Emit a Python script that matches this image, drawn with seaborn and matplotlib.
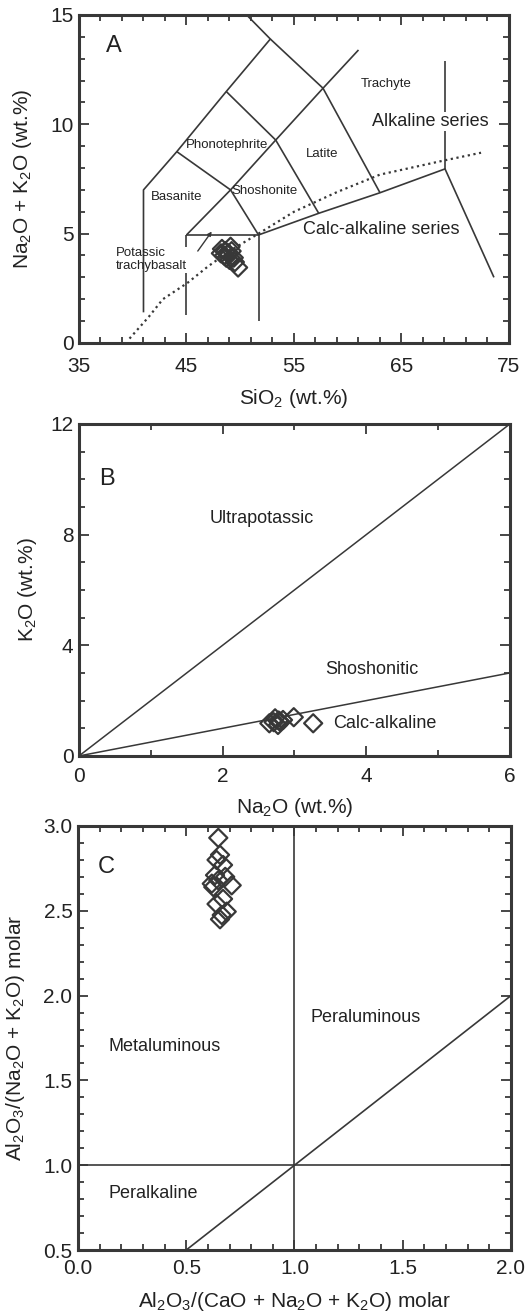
import numpy as np
import pandas as pd
import matplotlib
matplotlib.use("Agg")
import matplotlib.pyplot as plt
from matplotlib.ticker import MultipleLocator, FormatStrFormatter
import seaborn as sns

# -----------------------------------------------------------------------------
# Data
# -----------------------------------------------------------------------------

# Panel A: TAS diagram samples (SiO2 vs Na2O+K2O)
tas_sio2 = [48.2, 48.3, 48.5, 48.6, 48.7, 48.9, 49.0, 49.1, 49.2, 49.4, 49.5, 49.8]
tas_alk = [4.1, 4.3, 4.0, 4.2, 3.9, 4.1, 3.8, 4.4, 4.2, 3.9, 3.7, 3.45]

# TAS field boundaries, each a polyline of (SiO2, alkalis)
tas_bounds = {
    "left": ([41.0, 41.0, 44.1, 48.7, 52.8, 50.6], [1.4, 7.0, 8.75, 11.5, 13.9, 15.0]),
    "top": ([52.8, 57.7, 63.0], [13.9, 11.65, 6.87]),
    "trachyte": ([57.7, 61.0], [11.65, 13.4]),
    "mid1": ([45.0, 49.1, 53.3, 57.7], [4.94, 7.0, 9.28, 11.65]),
    "mid2": ([44.1, 49.1, 51.7], [8.75, 7.0, 4.94]),
    "mid3": ([48.7, 53.3, 57.3], [11.5, 9.28, 5.93]),
    "base": ([51.7, 57.3, 63.0, 69.05, 73.6], [4.94, 5.93, 6.87, 7.96, 3.0]),
    "rhyolite": ([69.05, 69.05], [7.96, 12.9]),
    "box_top": ([45.0, 51.7], [4.94, 4.94]),
    "box_l1": ([45.0, 45.0], [4.94, 4.4]),
    "box_l2": ([45.0, 45.0], [3.2, 1.3]),
    "box_r": ([51.7, 51.7], [4.94, 1.0]),
}

# Alkaline / subalkaline divide (dotted)
divide_sio2 = [39.7, 41.5, 42.8, 45.1, 47.0, 49.0, 51.7, 55.0, 59.0, 63.0, 69.0, 72.4]
divide_alk = [0.2, 1.2, 2.0, 2.75, 3.5, 4.2, 5.0, 6.0, 6.9, 7.7, 8.35, 8.7]

# small arrow inside potassic trachybasalt field
arrow_start = (45.9, 4.1)
arrow_end = (47.5, 5.2)

tas_labels = [
    ("Trachyte", 63.6, 11.83, 9.5),
    ("Alkaline series", 67.65, 10.12, 13),
    ("Phonotephrite", 48.74, 9.05, 9.5),
    ("Latite", 57.6, 8.63, 9.5),
    ("Basanite", 44.1, 6.69, 9.5),
    ("Shoshonite", 52.3, 6.96, 9.5),
    ("Calc-alkaline series", 63.16, 5.17, 13),
]

# Panel B: K2O vs Na2O
b_na2o = [2.65, 2.71, 2.73, 2.77, 2.80, 2.84, 2.78, 2.99, 3.26]
b_k2o = [1.18, 1.22, 1.36, 1.12, 1.24, 1.30, 1.28, 1.40, 1.18]
b_line_x = [0, 6]
b_ultra_y = [0, 12]
b_shosh_y = [0, 3]

# Panel C: A/NK vs A/CNK
c_acnk = [0.648, 0.656, 0.64, 0.67, 0.633, 0.648, 0.618, 0.625, 0.71, 0.68,
          0.67, 0.64, 0.687, 0.664, 0.656]
c_ank = [2.93, 2.83, 2.80, 2.77, 2.71, 2.68, 2.66, 2.64, 2.65, 2.70,
         2.57, 2.54, 2.495, 2.475, 2.45]

INK = "#383838"
TXT = "#222222"

sns.set_theme(style="white")
plt.rcParams["font.family"] = ["Liberation Sans", "DejaVu Sans"]
plt.rcParams["mathtext.default"] = "regular"

fig = plt.figure(figsize=(5.28, 13.14), dpi=100)
ax_a = fig.add_axes([0.1496, 0.7390, 0.8144, 0.2496])
ax_b = fig.add_axes([0.1496, 0.4247, 0.8163, 0.2527])
ax_c = fig.add_axes([0.1477, 0.0487, 0.8201, 0.3227])


def style_axes(ax, xloc, yloc, xpad, ypad):
    for sp in ax.spines.values():
        sp.set_color(INK)
        sp.set_linewidth(2.2)
    ax.xaxis.set_major_locator(xloc[0])
    ax.xaxis.set_minor_locator(xloc[1])
    ax.yaxis.set_major_locator(yloc[0])
    ax.yaxis.set_minor_locator(yloc[1])
    ax.tick_params(which="both", direction="in", top=True, right=True,
                   bottom=True, left=True, color=INK, width=1.3)
    ax.tick_params(which="major", length=7, labelsize=15, labelcolor=TXT)
    ax.tick_params(which="minor", length=4)
    ax.tick_params(axis="x", which="major", pad=xpad)
    ax.tick_params(axis="y", which="major", pad=ypad)


def diamonds(ax, x, y):
    df = pd.DataFrame({"x": x, "y": y})
    sns.scatterplot(data=df, x="x", y="y", ax=ax, marker="D", s=85,
                    fc="none", ec=INK, linewidth=1.6, zorder=5)
    ax.set_xlabel("")
    ax.set_ylabel("")


# ---------------- Panel A ----------------
for xs, ys in tas_bounds.values():
    ax_a.plot(xs, ys, color=INK, lw=1.2, solid_capstyle="butt")
ax_a.plot(divide_sio2, divide_alk, color=INK, lw=1.6, ls=(0, (1, 1.6)))
ax_a.annotate("", xy=arrow_end, xytext=arrow_start,
              arrowprops=dict(arrowstyle="-|>", color=INK, lw=1.0,
                              mutation_scale=6))
diamonds(ax_a, tas_sio2, tas_alk)
for txt, x, y, fs in tas_labels:
    kw = {}
    if txt == "Alkaline series":
        kw["bbox"] = dict(fc="white", ec="none", pad=0.5)
    ax_a.text(x, y, txt, ha="center", va="center", fontsize=fs, color=TXT, **kw)
ax_a.text(38.4, 3.8, "Potassic\ntrachybasalt", ha="left", va="center",
          fontsize=9.5, color=TXT, linespacing=1.1)
ax_a.text(38.2, 13.6, "A", ha="center", va="center", fontsize=17, color=TXT)
ax_a.set_xlim(35, 75)
ax_a.set_ylim(0, 15)
style_axes(ax_a,
           (MultipleLocator(10, offset=5), MultipleLocator(2, offset=1)),
           (MultipleLocator(5), MultipleLocator(1)),
           xpad=10, ypad=4)
ax_a.set_xlabel("SiO$_2$ (wt.%)", fontsize=15, color=TXT, labelpad=8)
ax_a.set_ylabel("Na$_2$O + K$_2$O (wt.%)", fontsize=15, color=TXT, labelpad=11.5)

# ---------------- Panel B ----------------
ax_b.plot(b_line_x, b_ultra_y, color=INK, lw=1.1)
ax_b.plot(b_line_x, b_shosh_y, color=INK, lw=1.1)
diamonds(ax_b, b_na2o, b_k2o)
ax_b.text(0.385, 10.0, "B", ha="center", va="center", fontsize=17, color=TXT)
ax_b.text(2.54, 8.59, "Ultrapotassic", ha="center", va="center", fontsize=13, color=TXT)
ax_b.text(4.07, 3.11, "Shoshonitic", ha="center", va="center", fontsize=13, color=TXT)
ax_b.text(3.54, 1.18, "Calc-alkaline", ha="left", va="center", fontsize=13, color=TXT)
ax_b.set_xlim(0, 6)
ax_b.set_ylim(0, 12)
style_axes(ax_b,
           (MultipleLocator(2), MultipleLocator(1)),
           (MultipleLocator(4), MultipleLocator(1)),
           xpad=8, ypad=4)
ax_b.set_xlabel("Na$_2$O (wt.%)", fontsize=15, color=TXT, labelpad=7.5)
ax_b.set_ylabel("K$_2$O (wt.%)", fontsize=15, color=TXT, labelpad=8)

# ---------------- Panel C ----------------
ax_c.axvline(1.0, color=INK, lw=1.2)
ax_c.axhline(1.0, color=INK, lw=1.2)
ax_c.plot([0.5, 2.0], [0.5, 2.0], color=INK, lw=1.2)
diamonds(ax_c, c_acnk, c_ank)
ax_c.text(0.13, 2.76, "C", ha="center", va="center", fontsize=17, color=TXT)
ax_c.text(0.40, 1.70, "Metaluminous", ha="center", va="center", fontsize=13, color=TXT)
ax_c.text(1.33, 1.87, "Peraluminous", ha="center", va="center", fontsize=13, color=TXT)
ax_c.text(0.348, 0.835, "Peralkaline", ha="center", va="center", fontsize=13, color=TXT)
ax_c.set_xlim(0, 2.0)
ax_c.set_ylim(0.5, 3.0)
style_axes(ax_c,
           (MultipleLocator(0.5), MultipleLocator(0.1)),
           (MultipleLocator(0.5), MultipleLocator(0.1)),
           xpad=6.5, ypad=4)
ax_c.xaxis.set_major_formatter(FormatStrFormatter("%.1f"))
ax_c.yaxis.set_major_formatter(FormatStrFormatter("%.1f"))
ax_c.set_xlabel("Al$_2$O$_3$/(CaO + Na$_2$O + K$_2$O) molar", fontsize=15,
                color=TXT, labelpad=8.5)
ax_c.set_ylabel("Al$_2$O$_3$/(Na$_2$O + K$_2$O) molar", fontsize=15,
                color=TXT, labelpad=12)

fig.savefig("out.png", dpi=100, facecolor="white")
